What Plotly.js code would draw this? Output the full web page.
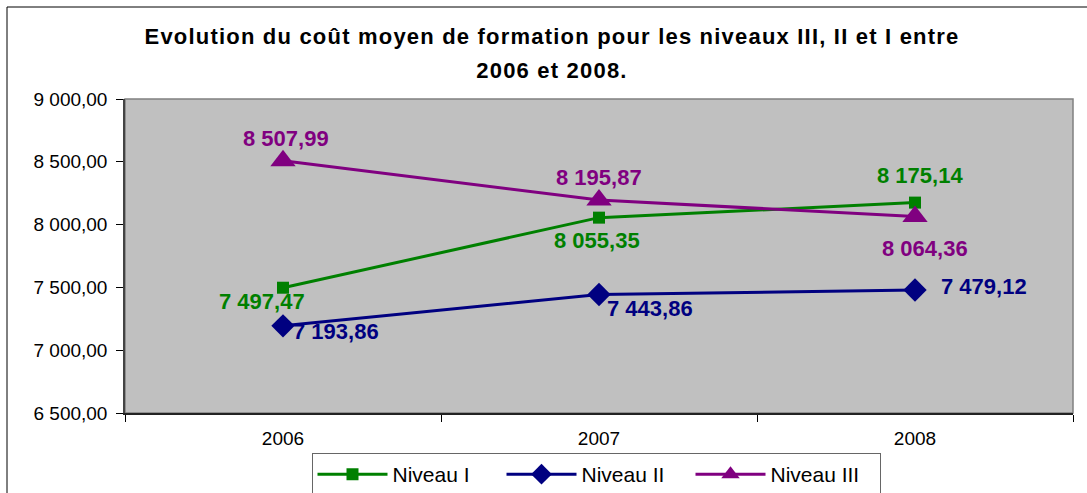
<!DOCTYPE html>
<html>
<head>
<meta charset="utf-8">
<script src="https://cdn.plot.ly/plotly-3.0.1.min.js"></script>
<style>
  html, body { margin: 0; padding: 0; background: #fff; }
  #chart { width: 1087px; height: 493px; }
</style>
</head>
<body>
<div id="chart"></div>
<script>
const years = ['2006', '2007', '2008'];
const niveauI = [7497.47, 8055.35, 8175.14];
const niveauII = [7193.86, 7443.86, 7479.12];
const niveauIII = [8507.99, 8195.87, 8064.36];
const seriesNames = ['Niveau I', 'Niveau II', 'Niveau III'];
const yTicks = [6500, 7000, 7500, 8000, 8500, 9000];

const colors = ['#008000', '#000080', '#800080'];
const symbols = ['square', 'diamond', 'triangle-up'];
const sizes = [12, 18, 22];
const seriesValues = [niveauI, niveauII, niveauIII];

// label offsets (pixels) per series, per point
const labelShifts = [
  [[-21, -14], [-2, -23], [5, 27]],
  [[53, -6], [51, -14], [69, 4]],
  [[3, 22], [0, 23], [10, -32]]
];

const FONT = 'Liberation Sans, Arial, sans-serif';

function fmt(v) {
  const parts = v.toFixed(2).split('.');
  const intPart = parts[0].replace(/\B(?=(\d{3})+(?!\d))/g, ' ');
  return intPart + ',' + parts[1];
}

const traces = seriesValues.map((vals, i) => ({
  type: 'scatter',
  mode: 'lines+markers',
  name: seriesNames[i],
  x: years,
  y: vals,
  line: { color: colors[i], width: 3 },
  marker: { color: colors[i], symbol: symbols[i], size: sizes[i] },
  cliponaxis: false,
  hoverinfo: 'x+y+name'
}));

const annotations = [];
seriesValues.forEach((vals, i) => {
  vals.forEach((v, j) => {
    annotations.push({
      x: years.indexOf(years[j]), y: v, xref: 'x', yref: 'y',
      text: '<b>' + fmt(v) + '</b>', showarrow: false,
      xshift: labelShifts[i][j][0], yshift: labelShifts[i][j][1],
      font: { family: FONT, size: 22, color: colors[i] }
    });
  });
});

const L = 125, R = 1073, T = 99, B = 413, W = 1087, H = 493;
const pw = R - L, ph = B - T;
const ts = 'font-size:22px;letter-spacing:1.2px';

const layout = {
  width: W, height: H,
  margin: { l: L, r: W - R, t: T, b: H - B, pad: 0, autoexpand: false },
  paper_bgcolor: '#ffffff',
  plot_bgcolor: '#c0c0c0',
  separators: ', ',
  font: { family: FONT, color: '#000' },
  title: {
    text: '<span style="' + ts + '">Evolution du coût moyen de formation pour les niveaux III, II et I entre</span><br><span style="' + ts + '">2006 et 2008.</span>',
    font: { family: FONT, size: 26, color: '#000', weight: 'bold' },
    xref: 'container', x: 552 / W, xanchor: 'center',
    yref: 'container', y: 1 - 44 / H, yanchor: 'top'
  },
  xaxis: {
    type: 'category',
    tickson: 'boundaries',
    ticks: 'outside', ticklen: 7, tickcolor: '#000', tickwidth: 1,
    ticklabelstandoff: 7,
    showline: true, linecolor: '#222', linewidth: 1.5,
    showgrid: false, zeroline: false,
    tickfont: { size: 19, color: '#000' },
    range: [-0.5, 2.5],
    fixedrange: true
  },
  yaxis: {
    range: [6500, 9000],
    tickvals: yTicks,
    tickformat: ',.2f',
    ticks: 'outside', ticklen: 7, tickcolor: '#000', tickwidth: 1,
    ticklabelstandoff: 5,
    showline: true, linecolor: '#444', linewidth: 1.5,
    showgrid: false, zeroline: false,
    tickfont: { size: 19, color: '#000' },
    fixedrange: true
  },
  showlegend: true,
  legend: {
    orientation: 'h',
    xref: 'container', x: 596 / W, xanchor: 'center',
    yref: 'container', y: 1 - 453 / H, yanchor: 'top',
    bgcolor: '#ffffff', bordercolor: '#666', borderwidth: 1,
    font: { family: FONT, size: 21, color: '#000' },
    itemwidth: 70,
    entrywidth: 104,
    entrywidthmode: 'pixels',
    traceorder: 'normal'
  },
  annotations: annotations,
  shapes: [
    {
      type: 'rect', xref: 'paper', yref: 'paper', layer: 'below',
      x0: 0, x1: 1, y0: 0, y1: 1,
      line: { color: '#808080', width: 1.5 }
    },
    {
      type: 'rect', xref: 'paper', yref: 'paper',
      x0: (7 - L) / pw, x1: (W + 10 - L) / pw,
      y0: (B - (H + 10)) / ph, y1: (B - 7) / ph,
      line: { color: '#000', width: 1 }
    }
  ]
};

Plotly.newPlot('chart', traces, layout, { displayModeBar: false });
</script>
</body>
</html>
